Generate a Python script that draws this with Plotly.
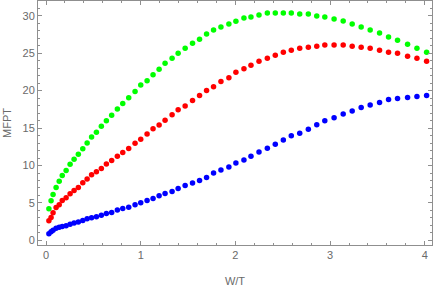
import plotly.graph_objects as go

# W/T values (shared by all three series)
wt = [0.03, 0.053, 0.074, 0.106, 0.139, 0.171, 0.212, 0.254, 0.296, 0.341,
      0.388, 0.434, 0.481, 0.532, 0.584, 0.637, 0.693, 0.753, 0.810, 0.873,
      0.940, 1.000, 1.067, 1.130, 1.194, 1.257, 1.331, 1.395, 1.469, 1.547,
      1.621, 1.695, 1.769, 1.847, 1.931, 2.005, 2.090, 2.164, 2.249, 2.337,
      2.421, 2.506, 2.590, 2.679, 2.770, 2.859, 2.944, 3.042, 3.138, 3.233,
      3.328, 3.423, 3.522, 3.617, 3.712, 3.818, 3.917, 4.019]

mfpt_green = [4.23, 5.29, 6.13, 7.07, 7.89, 8.67, 9.33, 10.16, 10.83, 11.52,
              12.23, 12.99, 13.79, 14.45, 15.25, 15.96, 16.72, 17.56, 18.27, 19.03,
              19.87, 20.76, 21.33, 22.13, 22.85, 23.65, 24.32, 24.99, 25.65, 26.32,
              26.85, 27.56, 28.09, 28.49, 28.89, 29.27, 29.69, 29.83, 30.09, 30.36,
              30.36, 30.36, 30.36, 30.23, 30.23, 29.96, 29.83, 29.56, 29.29, 28.89,
              28.49, 28.09, 27.69, 27.16, 26.72, 26.19, 25.65, 25.12]

mfpt_red = [2.63, 3.07, 3.69, 4.40, 4.76, 5.33, 5.69, 6.23, 6.67, 7.07,
            7.69, 8.19, 8.76, 9.16, 9.60, 10.19, 10.67, 11.25, 11.73, 12.27,
            12.96, 13.49, 14.19, 14.92, 15.40, 16.03, 16.76, 17.43, 17.96, 18.67,
            19.33, 20.00, 20.53, 21.20, 21.73, 22.45, 22.93, 23.39, 23.92, 24.32,
            24.72, 25.12, 25.39, 25.65, 25.79, 25.92, 26.09, 26.09, 26.09, 25.92,
            25.79, 25.65, 25.39, 25.12, 24.99, 24.59, 24.32, 23.92]

mfpt_blue = [0.89, 1.16, 1.36, 1.63, 1.77, 1.85, 1.96, 2.17, 2.32, 2.45,
             2.67, 2.89, 3.03, 3.16, 3.37, 3.60, 3.73, 4.05, 4.25, 4.44,
             4.76, 5.03, 5.33, 5.60, 5.96, 6.27, 6.53, 6.93, 7.33, 7.65,
             8.00, 8.40, 8.99, 9.39, 9.79, 10.32, 10.72, 11.25, 11.79, 12.32,
             12.85, 13.39, 13.96, 14.32, 14.85, 15.43, 15.96, 16.36, 16.89, 17.29,
             17.73, 18.09, 18.40, 18.80, 18.93, 19.07, 19.20, 19.33]

x_ticks = [0, 1, 2, 3, 4]
y_ticks = [0, 5, 10, 15, 20, 25, 30]

series = [(mfpt_green, "#00ff00"), (mfpt_red, "#ff0000"), (mfpt_blue, "#0000ff")]

fig = go.Figure()
for ys, col in series:
    fig.add_trace(go.Scatter(x=wt, y=ys, mode="markers",
                             marker=dict(color=col, size=5.5, line=dict(width=0)),
                             showlegend=False))

frame = "#8f8f8f"
txt = "#6a6a6a"
font = dict(family="Liberation Sans, Arial, sans-serif", size=11, color=txt)

common = dict(showline=True, linecolor=frame, linewidth=1, mirror="ticks",
              ticks="inside", ticklen=4, tickcolor=frame, tickwidth=1,
              showgrid=False, zeroline=False, tickfont=font)

fig.update_xaxes(range=[-0.085, 4.076], tickvals=x_ticks,
                 minor=dict(dtick=0.2, ticks="inside", ticklen=2, tickcolor=frame, showgrid=False),
                 title=dict(text="W/T", font=font, standoff=17), **common)
fig.update_yaxes(range=[-0.61, 31.96], tickvals=y_ticks,
                 minor=dict(dtick=1, ticks="inside", ticklen=2, tickcolor=frame, showgrid=False),
                 title=dict(text="MFPT", font=font, standoff=8), **common)

fig.update_layout(width=436, height=287, margin=dict(l=38, r=4, t=1, b=42),
                  plot_bgcolor="white", paper_bgcolor="white")

fig.write_html("out.html", config={"displayModeBar": False},
               post_script="document.body.style.margin='0';")
